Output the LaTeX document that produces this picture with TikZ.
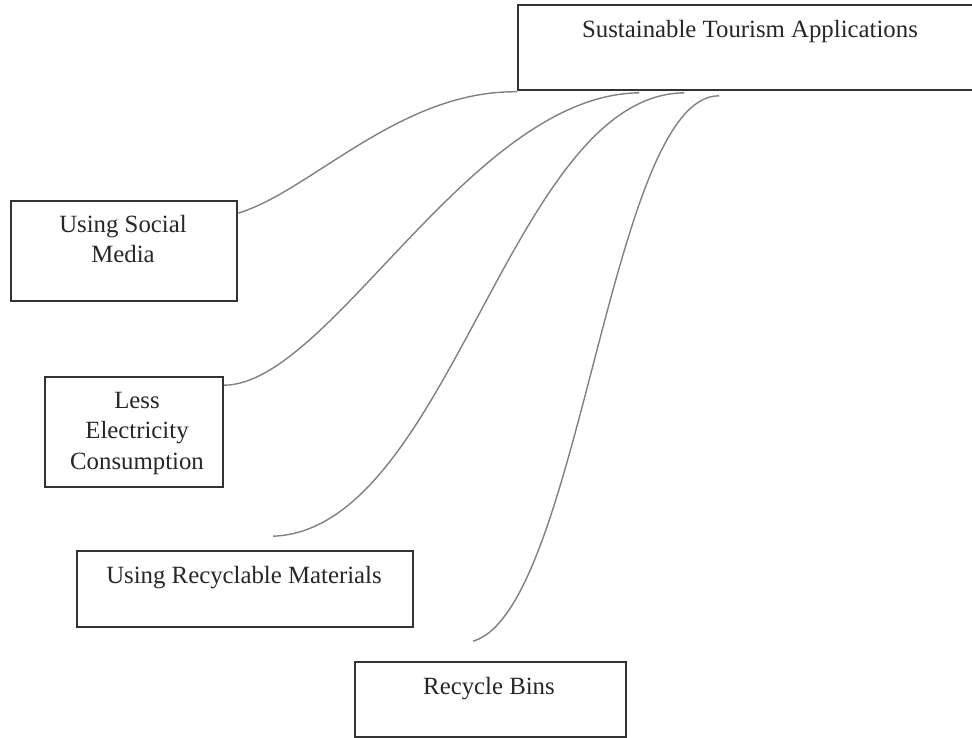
\documentclass[tikz,border=0pt]{standalone}
\usepackage{fontspec}
\setmainfont{Liberation Serif}
\usetikzlibrary{calc}
\begin{document}
\begin{tikzpicture}[x=1pt,y=-1pt,
  box/.style={draw=black!80, line width=1.6pt, rectangle, inner sep=0pt},
  lbl/.style={inner sep=0pt, anchor=north, align=center, text=black!85,
              font=\fontsize{24.8}{30.5}\selectfont},
  link/.style={draw=black!50, line width=1.4pt}]
  \useasboundingbox (0,0) rectangle (972,738);

  % boxes
  \node[box, minimum width=467pt, minimum height=85pt]  (top) at (751.5,47.5) {};
  \node[box, minimum width=226pt, minimum height=100pt] (soc) at (124,251) {};
  \node[box, minimum width=178pt, minimum height=110pt] (ele) at (134,432) {};
  \node[box, minimum width=336pt, minimum height=76pt]  (rec) at (245,589) {};
  \node[box, minimum width=271pt, minimum height=75pt]  (bin) at (490.5,699.5) {};

  % labels
  \node[lbl] (tTop) at (750,20) {Sustainable Tourism Applications};
  \node[lbl] (tSoc) at (123,215) {Using Social\\Media};
  \node[lbl] (tEle) at (137,392) {Less\\Electricity\\Consumption};
  \node[lbl] (tRec) at (244,566) {Using Recyclable Materials};
  \node[lbl] (tBin) at (489,677) {Recycle Bins};

  % connector end points
  \coordinate (sta) at ($(top.south west)+(0,1)$);
  \coordinate (stb) at ($(top.south west)+(122,2)$);
  \coordinate (stc) at ($(top.south west)+(167,2)$);
  \coordinate (std) at ($(top.south west)+(202,5)$);
  \coordinate (socE) at ($(soc.north east)+(0,13)$);
  \coordinate (eleE) at ($(ele.north east)+(0,9)$);
  \coordinate (recE) at ($(rec.north)+(28,-14)$);
  \coordinate (binE) at ($(bin.north)+(-17.5,-20)$);

  % connectors
  \draw[link] (socE) .. controls (310,192) and (400,90) .. (sta);
  \draw[link] (eleE) .. controls (330,385) and (470,95) .. (stb);
  \draw[link] (recE) .. controls (450,530) and (510,95) .. (stc);
  \draw[link] (binE) .. controls (580,610) and (610,95) .. (std);
\end{tikzpicture}
\end{document}
